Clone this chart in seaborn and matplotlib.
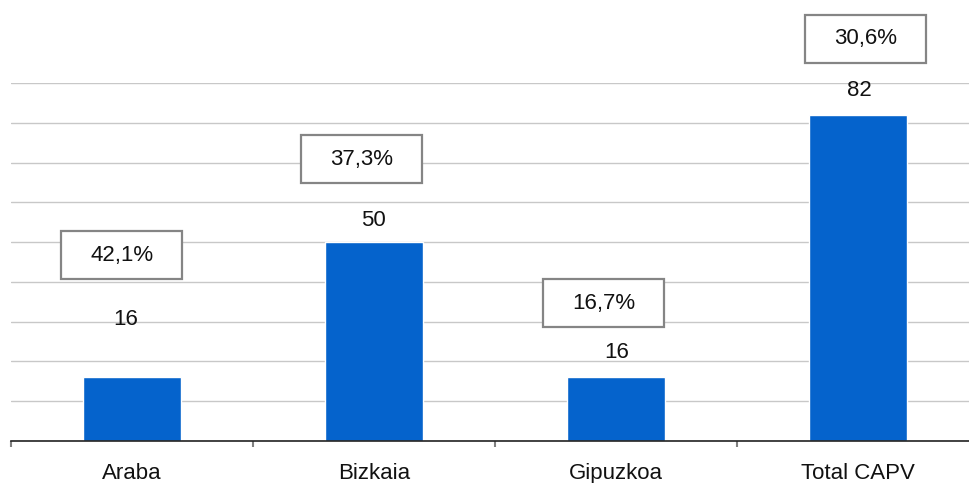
import matplotlib
matplotlib.use('Agg')
import matplotlib.pyplot as plt
import matplotlib.transforms as mtransforms
from matplotlib.patches import Rectangle
import pandas as pd
import seaborn as sns

# data
regions = ['Araba', 'Bizkaia', 'Gipuzkoa', 'Total CAPV']
counts = [16, 50, 16, 82]
shares = ['42,1%', '37,3%', '16,7%', '30,6%']

# label placement (pixels from bar top)
num_offsets = [(-6, 58), (-1, 22), (1, 25), (1, 24)]
box_offsets = [(-10, 122), (-12, 83), (-12, 74), (8, 76)]
box_w, box_h = 121, 48
fs = 16

sns.set_style('white')
plt.rcParams['font.family'] = ['Liberation Sans', 'DejaVu Sans']

fig = plt.figure(figsize=(9.7, 4.83), dpi=100)
ax = fig.add_axes([11 / 970, 42 / 483, 968 / 970, 358 / 483])

df = pd.DataFrame({'region': regions, 'count': counts})
sns.barplot(data=df, x='region', y='count', color='#0563cc', saturation=1,
            width=0.405, ax=ax, zorder=3)

ax.set_xlim(-0.5, 3.5)
ax.set_ylim(0, 90)
ax.set_yticks(range(0, 91, 10))
ax.yaxis.grid(True, color='#c8c8c8', lw=1)
ax.set_axisbelow(True)
ax.tick_params(axis='y', length=0, labelleft=False, left=False)
for s in ['left', 'right', 'top']:
    ax.spines[s].set_visible(False)
ax.spines['bottom'].set_color('#222222')
ax.spines['bottom'].set_linewidth(1.2)
ax.spines['bottom'].set_zorder(4)

ax.set_xticks([-0.5, 0.5, 1.5, 2.5, 3.5])
ax.set_xticklabels([])
ax.set_xticks(range(4), minor=True)
ax.set_xticklabels(regions, minor=True, fontsize=fs, color='#111111')
ax.tick_params(axis='x', which='major', bottom=True, length=4, width=1.5,
               color='#808080', direction='out')
ax.tick_params(axis='x', which='minor', bottom=True, length=0, pad=16)
ax.set_xlabel('')
ax.set_ylabel('')

for i, (v, pct) in enumerate(zip(counts, shares)):
    dx, dy = num_offsets[i]
    ax.annotate(str(v), xy=(i, v), xytext=(dx, dy), textcoords='offset pixels',
                ha='center', va='center', fontsize=fs, color='#111111', zorder=6)
    bx, by = box_offsets[i]
    px, py = ax.transData.transform((i, v))
    rect = Rectangle((px + bx - box_w / 2, py + by - box_h / 2), box_w, box_h,
                     transform=mtransforms.IdentityTransform(),
                     facecolor='white', edgecolor='#858585', lw=1.6, zorder=5)
    ax.add_patch(rect)
    rect.set_clip_on(False)
    ax.annotate(pct, xy=(i, v), xytext=(bx, by), textcoords='offset pixels',
                ha='center', va='center', fontsize=fs, color='#111111', zorder=6,
                annotation_clip=False)

ax.set_xlim(-0.5, 3.5)
ax.set_ylim(0, 90)

fig.savefig('out.png', dpi=100)
